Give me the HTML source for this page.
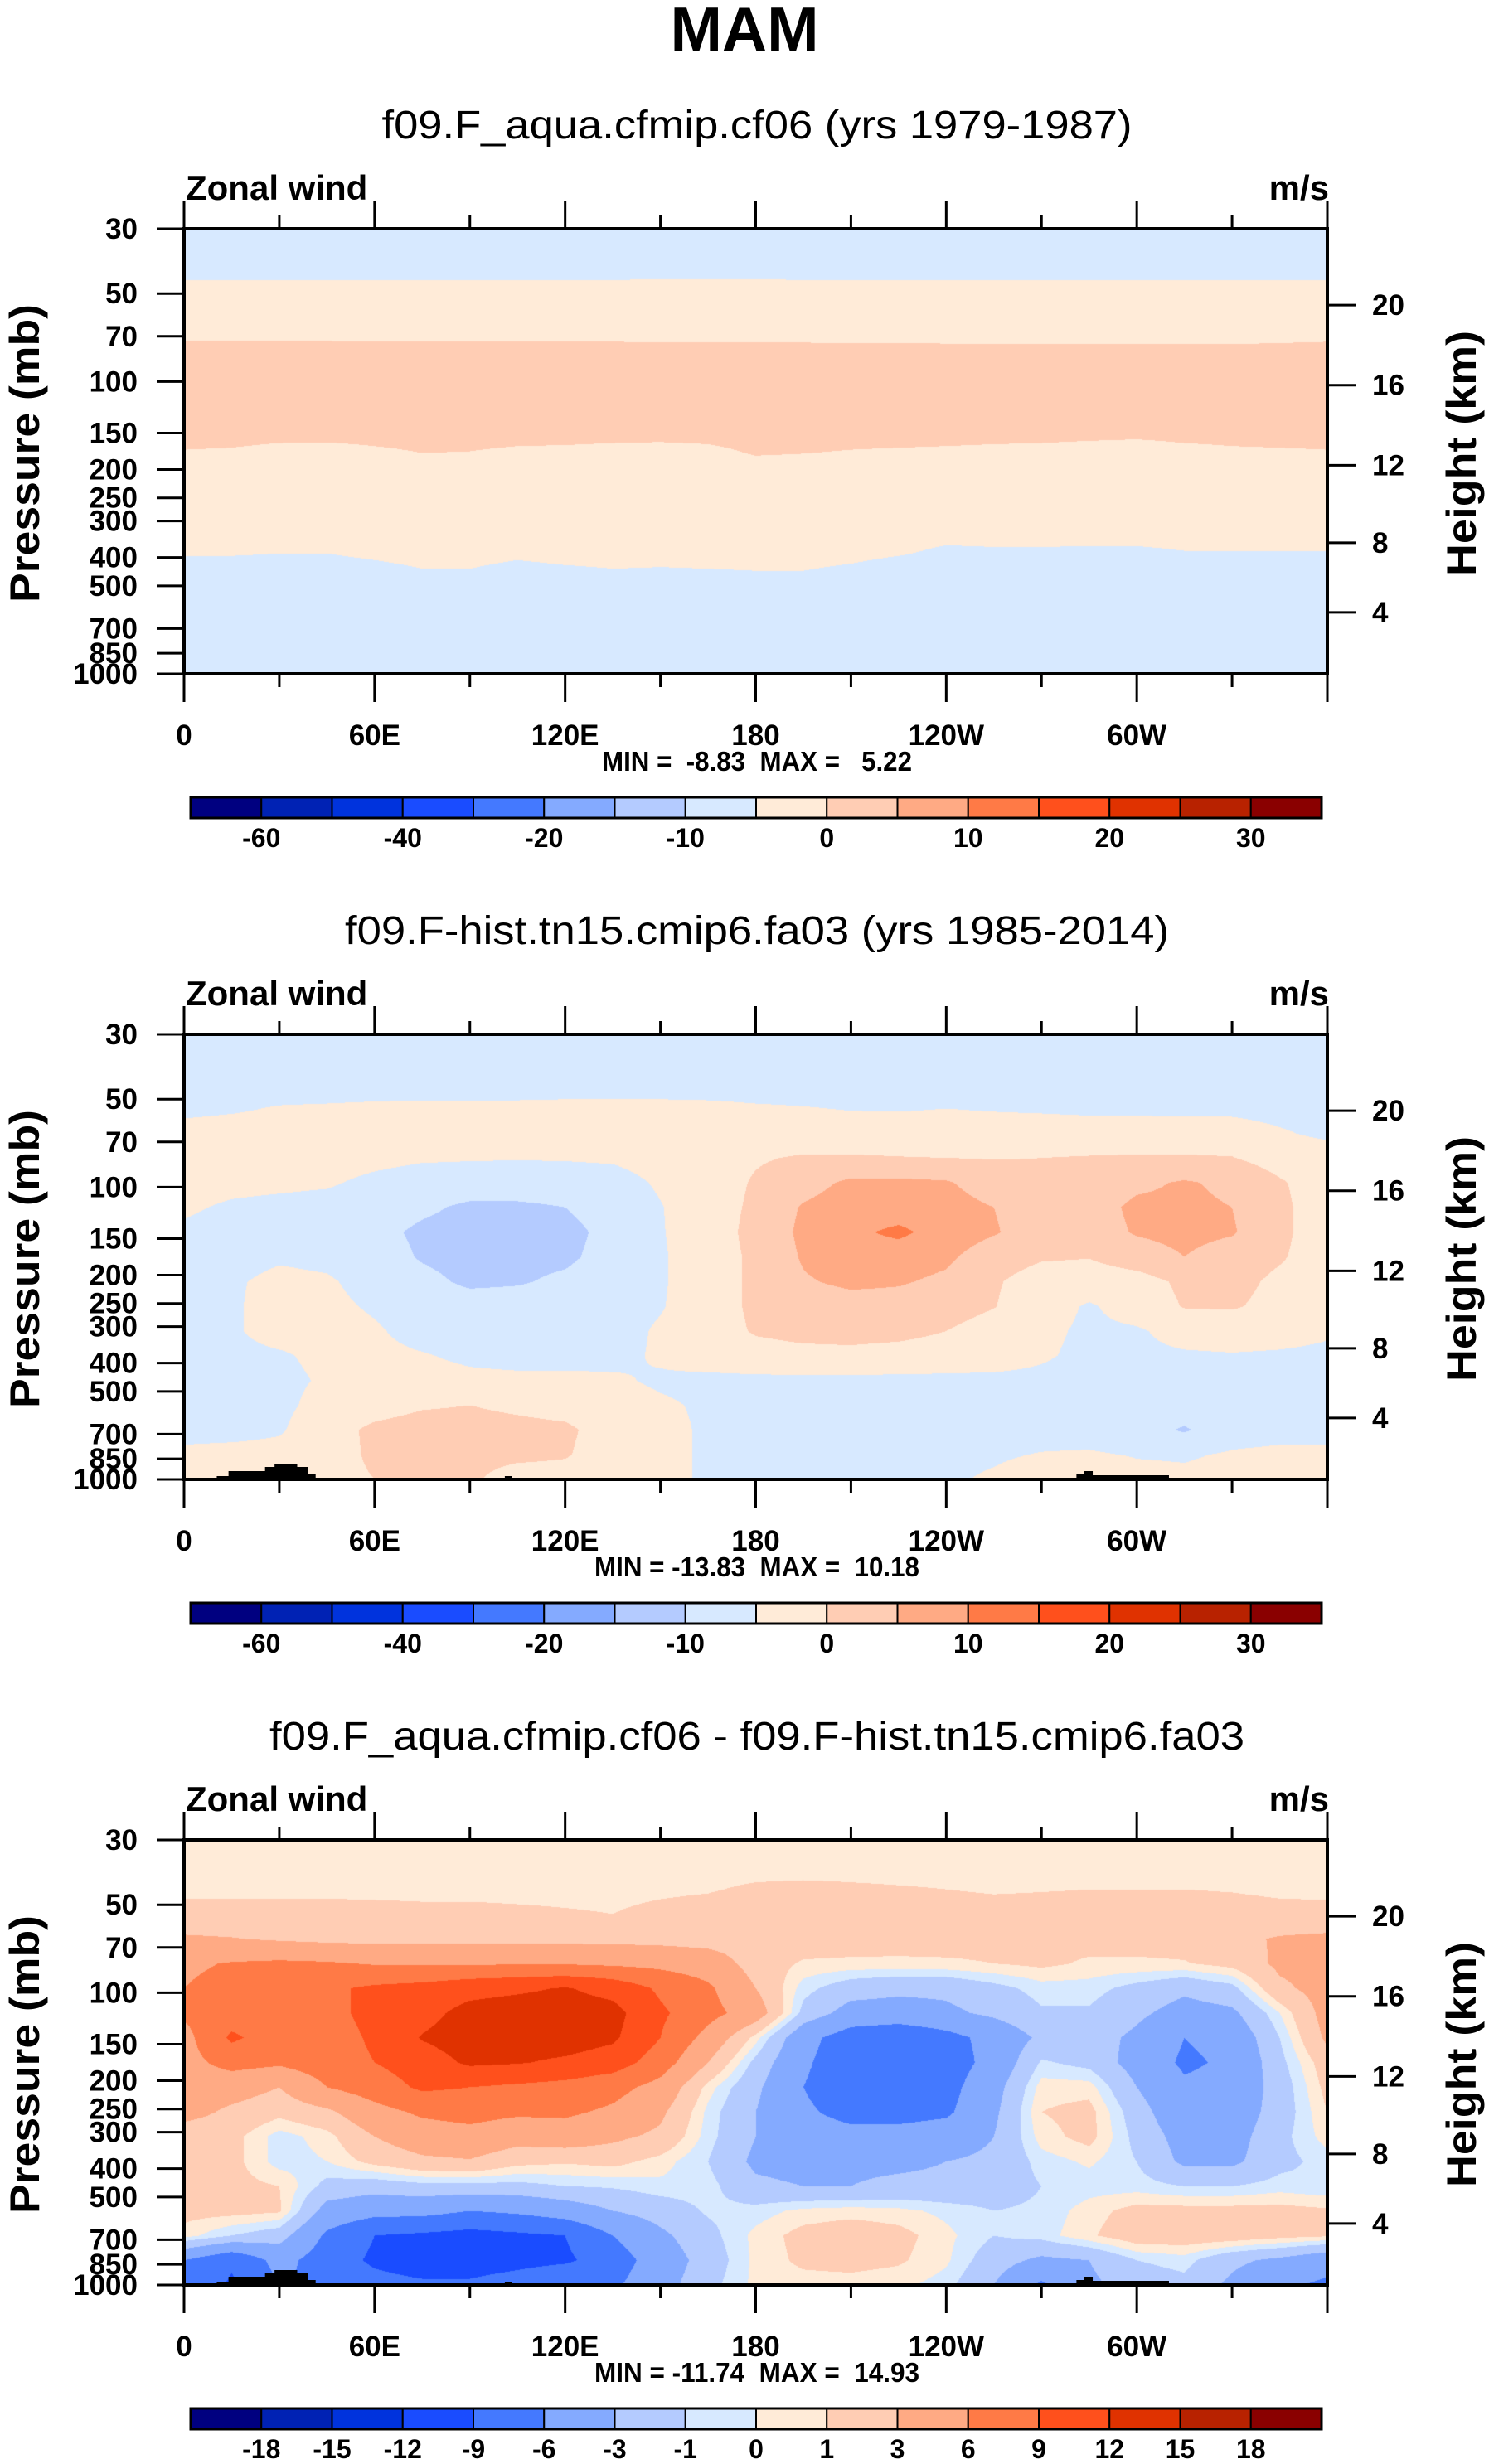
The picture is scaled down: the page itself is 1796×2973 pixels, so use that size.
<!DOCTYPE html>
<html><head><meta charset="utf-8"><style>
html,body{margin:0;padding:0;background:#fff;}
#wrap{position:relative;width:1796px;height:2973px;overflow:hidden;}
canvas{position:absolute;}
svg{position:absolute;left:0;top:0;}
text{font-family:"Liberation Sans",sans-serif;}
</style></head><body>
<div id="wrap">
<canvas id="c1" width="1379" height="537" style="left:222px;top:276px"></canvas>
<canvas id="c2" width="1379" height="537" style="left:222px;top:1248px"></canvas>
<canvas id="c3" width="1379" height="537" style="left:222px;top:2220px"></canvas>
<svg id="ov" width="1796" height="2973" xmlns="http://www.w3.org/2000/svg">
<text x="898" y="61" font-size="75" font-weight="bold" text-anchor="middle">MAM</text>
</svg>
</div>
<script>
// ===== data =====
const colors = ["#000080","#0022b4","#0033dd","#1a4cff","#4479ff","#84aaff","#b4cbff","#d7e9ff","#ffebd8","#ffcdb4","#ffaa84","#ff7a46","#ff501c","#e03200","#b82200","#8a0000"];
const levels1 = [-60,-50,-40,-30,-20,-15,-10,-5,0,5,10,15,20,25,30];
const levels2 = [-60,-50,-40,-30,-20,-15,-10,-5,0,5,10,15,20,25,30];
const levels3 = [-18,-15,-12,-9,-6,-3,-1,0,1,3,6,9,12,15,18];
const cbLabels1 = ["-60","","-40","","-20","","-10","","0","","10","","20","","30"];
const cbLabels3 = ["-18","-15","-12","-9","-6","-3","-1","0","1","3","6","9","12","15","18"];
const pressureTicks = [30,50,70,100,150,200,250,300,400,500,700,850,1000];
const heightTicks = [4,8,12,16,20];
const lonLabels = ["0","60E","120E","180","120W","60W"];
const titles = ["f09.F_aqua.cfmip.cf06 (yrs 1979-1987)","f09.F-hist.tn15.cmip6.fa03 (yrs 1985-2014)","f09.F_aqua.cfmip.cf06 - f09.F-hist.tn15.cmip6.fa03"];
const minmax = ["MIN =  -8.83  MAX =   5.22","MIN = -13.83  MAX =  10.18","MIN = -11.74  MAX =  14.93"];
// grid: 25 longitudes (0..360 by 15) x 19 rows equally spaced in log-pressure (30 -> 1000 mb)
const field1 = [
[-8,-8,-8,-8,-8,-8,-8,-8,-8,-8,-8,-8,-8,-8,-8,-8,-8,-8,-8,-8,-8,-8,-8,-8,-8],
[-7,-7,-7,-7,-7,-7,-7,-7,-7,-7,-7,-7,-7,-7,-7,-7,-7,-7,-7,-7,-7,-7,-7,-7,-7],
[-5.2,-5.2,-5.2,-5.2,-5.2,-5.2,-5.2,-5.2,-5.2,-5.2,-5.1,-5.1,-5.1,-5.2,-5.2,-5.2,-5.2,-5.2,-5.2,-5.2,-5.2,-5.2,-5.2,-5.2,-5.2],
[-2.5,-2.5,-2.5,-2.5,-2.5,-2.5,-2.5,-2.5,-2.5,-2.5,-2.5,-2.5,-2.5,-2.5,-2.5,-2.5,-2.5,-2.5,-2.5,-2.5,-2.5,-2.5,-2.5,-2.5,-2.5],
[-2,-2,-2,-2,-2,-2,-2,-2,-2,-2,-2,-2,-2,-2,-2,-2,-2,-2,-2,-2,-2,-2,-2,-2,-2],
[1.8,1.8,1.7,1.7,1.6,1.6,1.5,1.5,1.5,1.5,1.4,1.4,1.3,1.3,1.2,1.2,1.1,1.1,1,1,1,1,1,1.2,1.5],
[3,3,3,3,3,3,3.5,3.5,3,3,3,3,3,3,3,3,3,3,3,3,3,3,3,3,3],
[3,3,3,3,3,3,3,3,3,3,3,3,3,3,3,3,3,3,3,3,3,3,3,3,3],
[3,3,3,3,3,3,3,3,3,3,3,3,3,3,3,3,3,3,3,3,3,3,3,3,3],
[-0.2,-0.5,-1.5,-1.7,-0.8,0.2,0,-0.8,-1,-1.5,-1.8,-1.2,0.6,0.3,-0.2,-0.5,-0.8,-1.2,-1.5,-2.2,-2.8,-1.5,-0.8,-0.5,-0.2],
[-2.8,-2.8,-2.8,-2.8,-2.8,-2.8,-2.8,-2.8,-2.8,-2.8,-2.8,-2.8,-2.8,-2.8,-2.8,-2.8,-2.8,-2.8,-2.8,-2.8,-2.8,-2.8,-2.8,-2.8,-2.8],
[-2.9,-2.9,-2.9,-2.9,-2.9,-2.9,-2.9,-2.9,-2.9,-2.9,-2.9,-2.9,-2.9,-2.9,-2.9,-2.9,-2.9,-2.9,-2.9,-2.9,-2.9,-2.9,-2.9,-2.9,-2.9],
[-3,-3,-3,-3,-3,-3,-3,-3,-3,-3,-3,-3,-3,-3,-3,-3,-3,-3,-3,-3,-3,-3,-3,-3,-3],
[-4.4,-4.4,-4.7,-4.7,-4,-3.5,-3.5,-4,-3.5,-3.5,-3.5,-3.5,-3.5,-3.5,-3.8,-4.4,-5.5,-5.3,-5.3,-5.4,-5.4,-4.95,-4.95,-4.95,-4.95],
[-7,-7,-7,-7,-6.5,-5.5,-5.5,-6.5,-6,-5.5,-5.7,-5.5,-5.3,-5.3,-6,-7,-7,-7,-7,-7,-7,-7,-7,-7,-7],
[-6.5,-6.5,-6.5,-6.5,-6.5,-6.5,-6.5,-6.5,-6.5,-6.5,-6.5,-6.5,-6.5,-6.5,-6.5,-6.5,-6.5,-6.5,-6.5,-6.5,-6.5,-6.5,-6.5,-6.5,-6.5],
[-7,-7,-7,-7,-7,-7,-7,-7,-7,-7,-7,-7,-7,-7,-7,-7,-7,-7,-7,-7,-7,-7,-7,-7,-7],
[-7,-7,-7,-7,-7,-7,-7,-7,-7,-7,-7,-7,-7,-7,-7,-7,-7,-7,-7,-7,-7,-7,-7,-7,-7],
[-7,-7,-7,-7,-7,-7,-7,-7,-7,-7,-7,-7,-7,-7,-7,-7,-7,-7,-7,-7,-7,-7,-7,-7,-7]
];
const field2 = [
[-8,-8,-8,-8,-8,-8,-8,-8,-8,-8,-8,-8,-8,-8,-8,-8,-8,-8,-8,-8,-8,-8,-8,-8,-8],
[-8,-8,-8,-8,-8,-8,-8,-8,-8,-8,-8,-8,-8,-8,-8,-8,-8,-8,-8,-8,-8,-8,-8,-8,-8],
[-7,-7,-7,-7,-7,-7,-7,-7,-7,-7,-7,-7,-7,-7,-7,-7,-7,-7,-7,-7,-7,-7,-7,-7,-7],
[-6,-5.5,-4.7,-4.5,-4.2,-4,-4,-4,-3.8,-3.8,-3.8,-4,-4.5,-4.8,-5.2,-5.3,-5,-5.3,-5.5,-5.8,-5.8,-6,-6,-6.5,-7],
[-3.5,-3.2,-3,-3,-3,-3,-3,-3,-3,-3,-3,-3,-3,-3,-3,-3,-3,-3,-3,-3,-3,-3,-3,-4.5,-6],
[-2.5,-2.5,-2.5,-3,-3.8,-4.5,-4.7,-4.8,-4.7,-4.5,-3.5,-2,-0.5,0.5,0.5,0.2,0,-0.2,0,0.3,0.5,0.5,0.2,-2,-2.5],
[-3.5,-4,-4.2,-4.5,-6,-7,-7,-7,-7,-6.5,-4.5,-2.5,0.5,3,6,6,5.5,2.5,1.5,2,4,5.5,4,0.5,-2.5],
[-4.5,-5.5,-6,-6.5,-7,-9,-11,-11,-10,-7.5,-5.2,-2.5,1,5.5,7.5,7.5,7,5,2,3,6,6,5,1,-2.5],
[-5.5,-6.5,-7,-7.5,-8.5,-11,-12,-12,-11.5,-8.5,-5.3,-2.5,1.5,6,9,11,8,5.5,2,2.5,5.5,6.5,5.5,1,-2.5],
[-6,-6.5,-5.5,-6,-7.5,-10.5,-12,-11.5,-11,-8,-5.5,-2.5,1,5.5,8,7.5,6,2,0.5,0.2,2.5,5,2.5,0.5,-2.5],
[-6,-5.5,-4,-4.5,-6.5,-8.5,-11,-10.5,-9,-7,-5.5,-2.5,1,4.5,6,5.5,4,0.5,-2,-2.5,-2,1,1.5,-1,-2.5],
[-6.5,-5.5,-3.5,-4,-5.5,-7,-7.5,-7.5,-7,-6.5,-5.3,-2.5,1,2.5,3,3,2,0.2,-3,-5.5,-3,0.3,0.5,-1.5,-3],
[-6.5,-5.5,-3.5,-3.5,-4.5,-6.5,-7,-7,-7,-6.5,-4.5,-2.5,0.5,1.5,2,1.5,0,-2,-4,-5.8,-5.5,-3.5,-3,-3.5,-4.5],
[-6.5,-6,-5.5,-4,-4,-4.7,-5.8,-6.5,-6.5,-6,-4.5,-3,-2,-1.5,-1.5,-2,-2.5,-3,-4.5,-6,-5.8,-5.5,-5.3,-5.5,-5.8],
[-6.5,-6.5,-6,-4.5,-3.5,-3.5,-4,-4,-4,-4.5,-5.5,-6,-6,-6,-6,-6,-6,-6,-6,-6.5,-6.5,-6.5,-6.5,-6.5,-6.5],
[-6.5,-6.5,-6,-3.5,-2,-0.5,0,-1,-2,-3.5,-4.5,-5.5,-6.5,-6.5,-6.5,-6.5,-6.5,-6.5,-6.5,-6.5,-7,-7.5,-7,-6.5,-6.5],
[-6.5,-6.5,-5.5,-2,1,2,2,1.5,1,-2.5,-4,-5.5,-6.5,-6.5,-6.5,-6.5,-6.5,-6.5,-6.5,-7,-8,-10.5,-7,-6.5,-6.5],
[-4,-3.5,-3.5,-2.5,1,2,2,1.5,0.5,-3,-4,-5.5,-6.5,-6.5,-6.5,-6.5,-6,-5.5,-4.8,-4.5,-5.3,-5.5,-4.5,-4,-4],
[-3,0.5,0.5,-2,0,1,1,-3,-2.5,-3.5,-4,-5.5,-6,-6,-6,-6,-5.5,-4.5,-3,0.5,-3.5,-4,-3.5,-3.5,-3.5]
];
const field3 = [
[0.5,0.5,0.5,0.5,0.5,0.5,0.5,0.5,0.5,0.5,0.5,0.5,0.5,0.5,0.5,0.5,0.5,0.5,0.5,0.5,0.5,0.5,0.5,0.5,0.5],
[0.5,0.5,0.5,0.5,0.5,0.5,0.5,0.5,0.5,0.5,0.5,0.5,0.5,0.5,0.5,0.5,0.5,0.5,0.5,0.5,0.5,0.5,0.5,0.5,0.5],
[0.7,0.7,0.7,0.7,0.7,0.7,0.7,0.7,0.7,0.7,0.8,0.9,1.2,1.3,1.2,1.1,1.0,0.8,0.9,1.0,1.0,1.0,0.9,0.7,0.7],
[1.5,1.5,1.5,1.5,1.4,1.3,1.3,1.2,1.1,1.0,1.3,1.5,1.8,2,2,2,1.9,1.8,1.8,1.8,1.8,1.8,1.7,1.5,1.4],
[3.3,3.1,2.7,2.4,2.3,2.3,2.3,2.3,2.3,2.3,2.2,2,2,2,1.8,1.7,1.6,1.5,1.5,1.5,1.5,1.6,2.5,3.2,3.5],
[5.5,6.2,6.5,6.3,5.8,5.7,5.7,5.8,5.8,5.5,5.2,4.5,2,0.8,0.7,0.7,0.8,1.0,1.3,0.8,0.8,0.9,1.5,3.5,3.8],
[6,7,7.5,8.5,9.5,10,11,11.5,12.2,11,8.5,6.5,3,-0.5,-2,-2.5,-2.5,-1.5,-0.5,-0.5,-1.5,-2.5,-1.5,2.5,4],
[6.5,7.5,7.5,8,10,11,13,13.5,13.5,13,9.5,7,4.5,-1.5,-4,-4,-3.5,-2.5,-1.2,-1.2,-2.5,-4,-3.5,0,4],
[5,9.5,7.5,7.5,9.5,12.2,13.5,13.5,13.5,12.5,9,5,0.5,-5,-7.5,-8.5,-7,-5,-2.5,-2,-3.5,-6,-5,-1,3.5],
[5,7,6.5,7.5,9,10.5,12.5,12.2,11.5,10.5,7.5,3,-1.5,-5.5,-8,-8.5,-7.5,-5,-0.8,-1.5,-4,-6.5,-5.5,-1.5,2],
[4.5,4.2,3,6,7.5,9.5,9,8.5,8,7,5,0.5,-2.5,-6,-8,-8,-7,-4,0.5,0.5,-3,-5.5,-5,-2,1.5],
[4,2.5,1.5,2.5,5,6.5,7,6.5,6.5,5.5,3.5,-0.3,-3,-5.5,-7,-7,-6.5,-3.5,1,1.5,-2,-5,-4.5,-2,1],
[1.5,1.5,-0.5,0.5,3,4.5,5,4,4.5,3.5,2.5,-0.5,-3,-4.5,-5,-5,-4.5,-3,0.5,1.5,-1.5,-4,-4,-1.5,0.5],
[1.5,1.5,-0.5,0,1.5,2.5,2.8,1.5,1.2,1.5,0.5,-1,-3.5,-4,-3.5,-3.5,-3,-2.5,-0.5,0.2,-1,-3.5,-3.5,-1.5,-0.5],
[1.5,1.5,1,-1.5,-2,-1.5,-1.5,-1.5,-1,-0.8,-0.3,-0.5,-2.5,-3,-3,-2.5,-2.5,-2,-1,-0.5,-0.5,-1,-1,-0.5,-0.8],
[1.5,1.5,1.2,-4,-5,-5,-6,-5.5,-4.5,-3,-2,-0.8,-0.5,0.3,0.5,0.3,-0.3,-1,-0.7,0.5,1.5,1.5,1.5,1.5,1.2],
[0.5,-1,-2,-6.5,-9,-9.5,-10,-9.5,-9,-6,-3.5,-1.5,0.3,1.5,2,1.5,0.3,-1,-0.5,0.8,2,2,2,1.5,1.2],
[-6,-8.5,-5,-7.5,-9.5,-10.5,-10.5,-10,-9.5,-7.5,-4.5,-2,0.3,1.3,1.5,1.2,0.2,-2,-3.5,-3,-1,-0.5,-2.5,-3.5,-5],
[-6,-9.5,-6,-6.5,-8,-8.5,-8.5,-7.5,-6,-6.5,-4,-1.5,0.3,0.5,0.5,0.3,-0.5,-3,-6.5,-3.5,-2,-1.5,-3.5,-5.5,-6.5]
];
// surface topography segments (longitude start/end in deg, height px above bottom axis)
const topoStart = [10.3,14,25.5,28.5,35.5,39,101,281,283.5,286];
const topoEnd   = [14,25.5,28.5,35.5,39,41.3,103,283.5,286,310];
const topoH     = [4,10,15,18,15,6,4,6,10,5];

// ===== geometry =====
const PL=222, PW=1379, PT=276, PH=537, OFF=[0,972,1944];
const NS="http://www.w3.org/2000/svg";
const svg=document.getElementById('ov');
function xOf(lon){return PL+PW*lon/360;}
function yOf(p,off){return PT+off+PH*Math.log10(p/30)/Math.log10(1000/30);}
function pOfZ(z){return z<=11?1013.25*Math.pow(1-z/44.3308,5.2559):226.32*Math.exp(-(z-11)/6.3416);}
function mk(tag,attrs,txt){const e=document.createElementNS(NS,tag);for(const k in attrs)e.setAttribute(k,attrs[k]);if(txt!==undefined)e.textContent=txt;svg.appendChild(e);return e;}
function hexRGB(h){return [parseInt(h.substr(1,2),16),parseInt(h.substr(3,2),16),parseInt(h.substr(5,2),16)];}
const rgb=colors.map(hexRGB);
function cls(v,lv){let i=0;while(i<lv.length&&v>=lv[i])i++;return i;}

function drawField(id,data,lv){
  const c=document.getElementById(id),ctx=c.getContext('2d');
  const W=c.width,H=c.height,img=ctx.createImageData(W,H),d=img.data;
  const nx=data[0].length-1, ny=data.length-1;
  for(let y=0;y<H;y++){
    const fy=(y+0.5)/H*ny, j=Math.min(ny-1,Math.floor(fy)), ty=fy-j;
    for(let x=0;x<W;x++){
      const fx=(x+0.5)/W*nx, i=Math.min(nx-1,Math.floor(fx)), tx=fx-i;
      const v=(data[j][i]*(1-tx)+data[j][i+1]*tx)*(1-ty)+(data[j+1][i]*(1-tx)+data[j+1][i+1]*tx)*ty;
      const col=rgb[cls(v,lv)], k=(y*W+x)*4;
      d[k]=col[0];d[k+1]=col[1];d[k+2]=col[2];d[k+3]=255;
    }
  }
  ctx.putImageData(img,0,0);
}
drawField('c1',field1,levels1);
drawField('c2',field2,levels2);
drawField('c3',field3,levels3);

for(let p=0;p<3;p++){
  const off=OFF[p], bottom=PT+off+PH;
  const t=mk('text',{x:913,y:167+off,'font-size':48,'text-anchor':'middle',textLength:[905,994,1176][p],lengthAdjust:'spacingAndGlyphs'},titles[p]);
  
  
  const zw=mk('text',{x:224,y:241+off,'font-size':42,'font-weight':'bold'},'Zonal wind');
  
  
  const un=mk('text',{x:1603,y:241+off,'font-size':42,'font-weight':'bold','text-anchor':'end'},'m/s');
  
  
  if(p>0){
    for(let k=0;k<topoStart.length;k++){
      const h=topoH[k];
      const r=mk('rect',{x:xOf(topoStart[k]),y:bottom-h,width:xOf(topoEnd[k])-xOf(topoStart[k])+0.5,height:h,fill:'#000'});
      
      
    }
  }
  const fr=mk('rect',{x:PL,y:PT+off,width:PW,height:PH,fill:'none',stroke:'#000','stroke-width':4});
  
  
  for(let lon=0;lon<=360;lon+=30){
    const major=lon%60===0, L=major?34:16, x=xOf(lon);
    const t1=mk('line',{x1:x,x2:x,y1:PT+off,y2:PT+off-L,stroke:'#000','stroke-width':3});
    
    
    const t2=mk('line',{x1:x,x2:x,y1:bottom,y2:bottom+L,stroke:'#000','stroke-width':3});
    
    
    if(major&&lon<360){
      const lb=mk('text',{x:x,y:899+off,'font-size':35,'font-weight':'bold','text-anchor':'middle'},lonLabels[lon/60]);
      
      
    }
  }
  pressureTicks.forEach(pr=>{
    const y=yOf(pr,off);
    const tk=mk('line',{x1:PL,x2:PL-33,y1:y,y2:y,stroke:'#000','stroke-width':3});
    
    
    const lb=mk('text',{x:166,y:y+12,'font-size':35,'font-weight':'bold','text-anchor':'end'},String(pr));
    
    
  });
  heightTicks.forEach(z=>{
    const y=yOf(pOfZ(z),off);
    const tk=mk('line',{x1:PL+PW,x2:PL+PW+34,y1:y,y2:y,stroke:'#000','stroke-width':3});
    
    
    const lb=mk('text',{x:1655,y:y+12,'font-size':35,'font-weight':'bold'},String(z));
    
    
  });
  const yl=mk('text',{x:0,y:0,'font-size':50,'font-weight':'bold','text-anchor':'middle',textLength:360,lengthAdjust:'spacingAndGlyphs',transform:`translate(47,${547+off}) rotate(-90)`},'Pressure (mb)');
  
  
  const yr=mk('text',{x:0,y:0,'font-size':50,'font-weight':'bold','text-anchor':'middle',textLength:296,lengthAdjust:'spacingAndGlyphs',transform:`translate(1780,${547+off}) rotate(-90)`},'Height (km)');
  
  
  const mm=mk('text',{x:913,y:930+off,'font-size':33,'font-weight':'bold','text-anchor':'middle',textLength:[374,392,392][p],lengthAdjust:'spacingAndGlyphs',style:'white-space:pre'},minmax[p]);
  
  
  const bw=1364/16, by=962+off;
  colors.forEach((c,i)=>{
    const r=mk('rect',{x:230+i*bw,y:by,width:bw,height:25,fill:c,stroke:'#000','stroke-width':2});
    
    
  });
  const cbo=mk('rect',{x:230,y:by,width:1364,height:25,fill:'none',stroke:'#000','stroke-width':3});
  
  
  const labs=p===2?cbLabels3:cbLabels1;
  labs.forEach((s,i)=>{
    if(!s)return;
    const lb=mk('text',{x:230+(i+1)*bw,y:1022+off,'font-size':32,'font-weight':'bold','text-anchor':'middle'},s);
    
    
  });
}
</script>
</body></html>
